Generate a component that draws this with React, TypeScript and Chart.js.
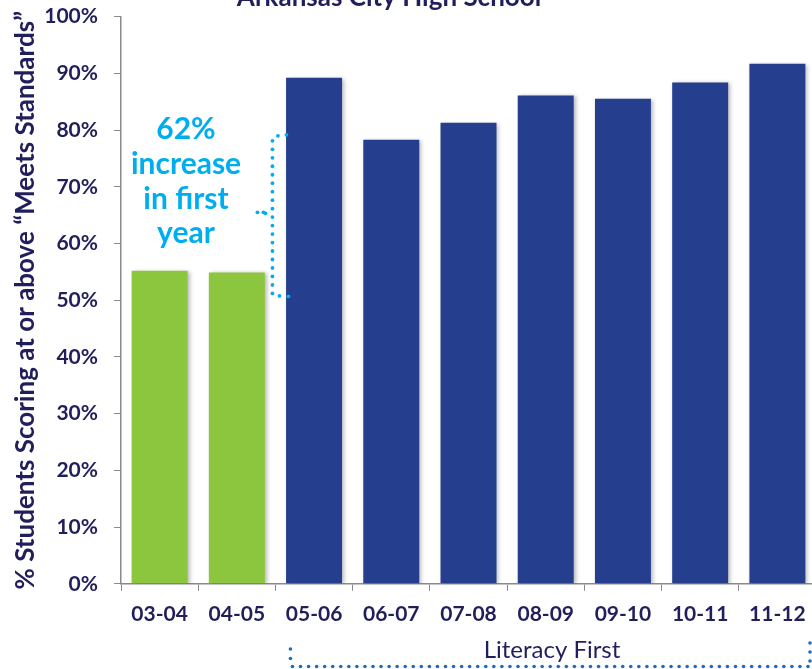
import React, { useEffect, useRef } from "react";
import { Chart, registerables } from "chart.js";

Chart.register(...registerables);

const CATEGORIES = ["03-04", "04-05", "05-06", "06-07", "07-08", "08-09", "09-10", "10-11", "11-12"];
const VALUES = [55.2, 54.9, 89.2, 78.3, 81.3, 86.1, 85.5, 88.4, 91.7];
const PRE_COLOR = "#8CC63F";
const POST_COLOR = "#253F8E";
const BAR_COLORS = CATEGORIES.map((_, i) => (i < 2 ? PRE_COLOR : POST_COLOR));
const TITLE = "Arkansas City High School";
const Y_TITLE = "% Students Scoring at or above \u201CMeets Standards\u201D";
const NOTE_LINES = ["62%", "increase", "in first", "year"];
const PROGRAM_LABEL = "Literacy First";

const NAVY = "#211E5C";
const CYAN = "#00AEEF";
const DOT_BLUE = "#1F6DB8";
const AXIS_GRAY = "#8A8A8A";
const SHIFT = 12;

function dot(ctx: CanvasRenderingContext2D, x: number, y: number, r: number) {
  ctx.beginPath();
  ctx.arc(x, y, r, 0, Math.PI * 2);
  ctx.fill();
}

const decorPlugin = {
  id: "decor",
  beforeDatasetsDraw(chart: any) {
    const ctx = chart.ctx;
    ctx.save();
    ctx.shadowColor = "rgba(0,0,0,0.28)";
    ctx.shadowBlur = 4;
    ctx.shadowOffsetX = 2;
    ctx.shadowOffsetY = 1;
  },
  afterDatasetsDraw(chart: any) {
    chart.ctx.restore();
  },
  afterDraw(chart: any) {
    const ctx: CanvasRenderingContext2D = chart.ctx;
    const xs = chart.scales.x;
    const ys = chart.scales.y;
    ctx.save();

    // title (mostly cut off at top)
    ctx.fillStyle = NAVY;
    ctx.font = "bold 26px Lato";
    ctx.textAlign = "center";
    ctx.textBaseline = "alphabetic";
    ctx.fillText(TITLE, 389, 6 + SHIFT);

    // annotation text
    ctx.fillStyle = CYAN;
    ctx.font = "bold 30px Lato";
    const baselines = [139, 174, 209, 243];
    NOTE_LINES.forEach((t, i) => ctx.fillText(t, 186, baselines[i] + SHIFT));

    // cyan dotted bracket
    const p1 = xs.getPixelForValue(1);
    const p2 = xs.getPixelForValue(2);
    const bx = (p1 + p2) / 2 - 3;
    const yTop = ys.getPixelForValue(78.8);
    const yBot = ys.getPixelForValue(51.2);
    const yMid = ys.getPixelForValue(65.5);
    ctx.fillStyle = CYAN;
    const n = 19;
    for (let i = 0; i < n; i++) {
      dot(ctx, bx, yTop + 4 + ((yBot - yTop - 4) * i) / (n - 1), 1.9);
    }
    dot(ctx, bx + 5.5, yTop - 1, 1.9);
    dot(ctx, bx + 14, yTop - 2, 1.9);
    dot(ctx, bx + 7, yBot + 2.5, 1.9);
    dot(ctx, bx + 16, yBot + 3, 1.9);
    dot(ctx, bx - 15, yMid, 1.9);
    dot(ctx, bx - 9, yMid, 1.9);
    dot(ctx, bx - 7, yMid + 1, 1.9);

    // bottom bracket
    ctx.fillStyle = DOT_BLUE;
    const lx = xs.getPixelForValue(2) - xs.width / CATEGORIES.length / 2 + 15;
    const rx = 810;
    const by = 666.5 + SHIFT;
    dot(ctx, lx, 649 + SHIFT, 1.8);
    dot(ctx, lx, 658.5 + SHIFT, 1.8);
    const steps = Math.round((rx - lx - 4) / 8);
    for (let i = 0; i <= steps; i++) {
      dot(ctx, lx + 2 + ((rx - lx - 4) * i) / steps, by, 1.8);
    }
    dot(ctx, rx, 661 + SHIFT, 1.8);
    dot(ctx, rx, 652 + SHIFT, 1.8);
    dot(ctx, rx, 643 + SHIFT, 1.8);

    ctx.fillStyle = NAVY;
    ctx.font = "24px Lato";
    ctx.textAlign = "center";
    ctx.fillText(PROGRAM_LABEL, 552, 658 + SHIFT);

    ctx.restore();
  },
};

export default function App() {
  const ref = useRef<HTMLCanvasElement | null>(null);
  useEffect(() => {
    if (!ref.current) return;
    const chart = new Chart(ref.current, {
      type: "bar",
      data: {
        labels: CATEGORIES,
        datasets: [
          {
            data: VALUES,
            backgroundColor: BAR_COLORS,
            categoryPercentage: 1,
            barPercentage: 0.725,
          },
        ],
      },
      options: {
        responsive: false,
        animation: false,
        devicePixelRatio: 1,
        layout: { padding: { left: 0, top: 5, right: 14, bottom: 31 } },
        plugins: { legend: { display: false }, tooltip: { enabled: false }, title: { display: false } },
        scales: {
          x: {
            grid: { display: true, drawOnChartArea: false, drawTicks: true, tickLength: 7, color: AXIS_GRAY, offset: true },
            border: { display: true, color: AXIS_GRAY, width: 1.5 },
            ticks: { color: NAVY, font: { family: "Lato", weight: "bold", size: 21 }, padding: 11, maxRotation: 0 },
          },
          y: {
            min: 0,
            max: 100,
            afterFit: (s: any) => {
              s.width = 121;
            },
            grid: { display: true, drawOnChartArea: false, drawTicks: true, tickLength: 7, color: AXIS_GRAY },
            border: { display: true, color: AXIS_GRAY, width: 1.5 },
            ticks: {
              stepSize: 10,
              color: NAVY,
              font: { family: "Lato", weight: "bold", size: 21 },
              padding: 16,
              callback: (v: any) => v + "%",
            },
            title: {
              display: true,
              text: Y_TITLE,
              color: NAVY,
              font: { family: "Lato", weight: "bold", size: 26 },
              padding: { top: 10, bottom: 0 },
            },
          },
        },
      },
      plugins: [decorPlugin],
    });
    return () => chart.destroy();
  }, []);
  return (
    <div style={{ position: "fixed", left: 0, top: -SHIFT, width: 830, height: 669 + SHIFT, background: "#fff" }}>
      <canvas ref={ref} width={830} height={669 + SHIFT} style={{ display: "block" }} />
    </div>
  );
}
